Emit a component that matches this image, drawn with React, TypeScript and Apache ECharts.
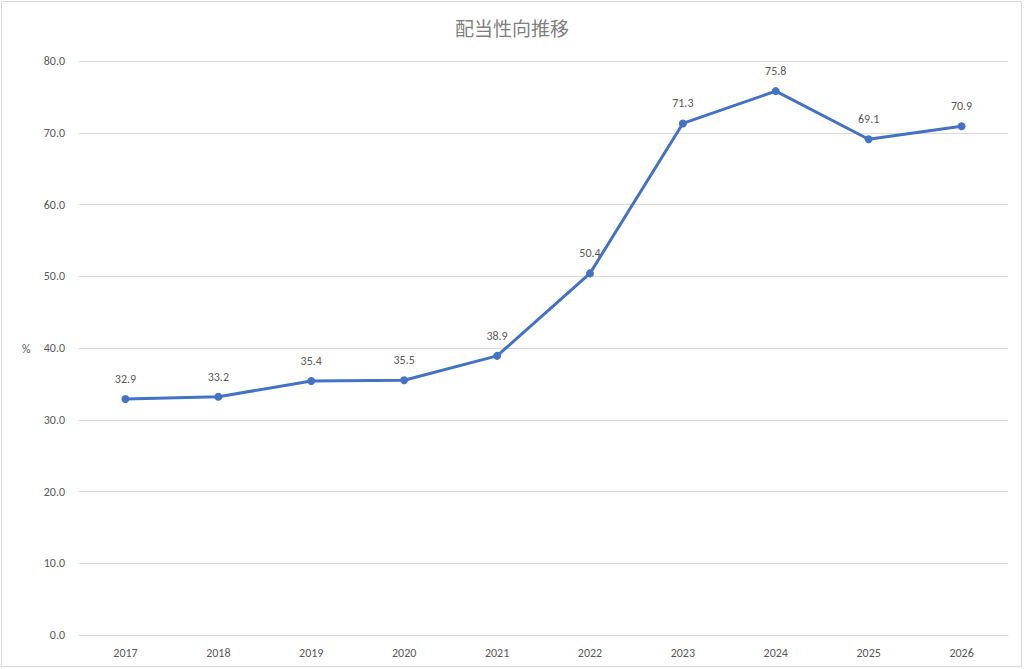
import React, { useEffect, useRef } from "react";
import * as echarts from "echarts";

const title = "配当性向推移";
const years = ["2017", "2018", "2019", "2020", "2021", "2022", "2023", "2024", "2025", "2026"];
const payoutRatio = [32.9, 33.2, 35.4, 35.5, 38.9, 50.4, 71.3, 75.8, 69.1, 70.9];
const yAxisUnit = "%";

export default function App() {
  const ref = useRef<HTMLDivElement>(null);
  useEffect(() => {
    if (!ref.current) return;
    const chart = echarts.init(ref.current, null, { renderer: "svg" });
    const font = "Calibri, Carlito, 'Noto Sans CJK JP', 'Liberation Sans', sans-serif";
    chart.setOption({
      animation: false,
      backgroundColor: "#ffffff",
      title: {
        text: title,
        left: "center",
        top: 13,
        textStyle: { fontSize: 19, fontWeight: "normal", color: "#7f7f7f", fontFamily: "'Noto Sans CJK JP', sans-serif" },
      },
      graphic: [
        {
          type: "rect",
          shape: { x: 1.5, y: 1.5, width: 1020, height: 665 },
          style: { fill: "none", stroke: "#d9d9d9", lineWidth: 1 },
          silent: true,
        },
        {
          type: "text",
          left: 22,
          top: 343,
          style: { text: yAxisUnit, fontSize: 12, fill: "#595959", fontFamily: font },
        },
      ],
      grid: { left: 79, right: 16, top: 61, bottom: 34 },
      xAxis: {
        type: "category",
        data: years,
        boundaryGap: true,
        axisLine: { show: true, lineStyle: { color: "#d9d9d9" } },
        axisTick: { show: false },
        axisLabel: { color: "#595959", fontSize: 12, margin: 12, fontFamily: font },
      },
      yAxis: {
        type: "value",
        min: 0,
        max: 80,
        interval: 10,
        axisLine: { show: false },
        axisTick: { show: false },
        axisLabel: {
          color: "#595959",
          fontSize: 12,
          margin: 14,
          fontFamily: font,
          formatter: (v: number) => v.toFixed(1),
        },
        splitLine: { lineStyle: { color: "#d9d9d9", width: 1 } },
      },
      series: [
        {
          type: "line",
          data: payoutRatio,
          symbol: "circle",
          symbolSize: 8,
          lineStyle: { color: "#4472c4", width: 3 },
          itemStyle: { color: "#4472c4" },
          label: {
            show: true,
            position: "top",
            distance: 10,
            color: "#595959",
            fontSize: 12,
            fontFamily: font,
            formatter: (p: any) => Number(p.value).toFixed(1),
          },
        },
      ],
    });
    return () => chart.dispose();
  }, []);
  return <div ref={ref} style={{ position: "fixed", left: 0, top: 0, width: 1024, height: 669 }} />;
}
